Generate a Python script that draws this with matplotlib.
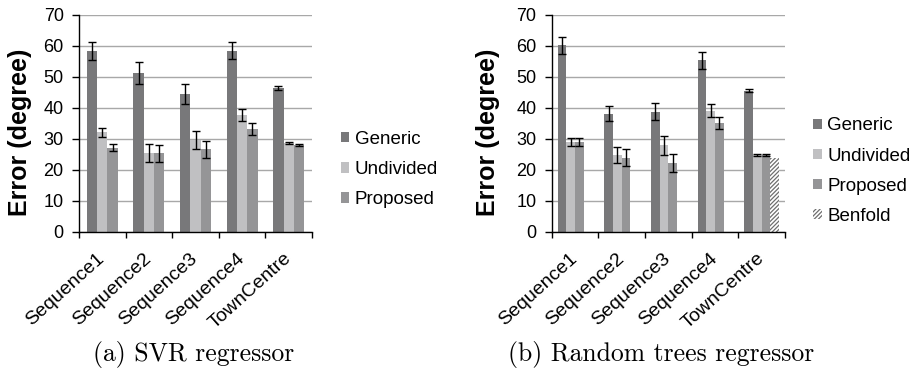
import numpy as np
import matplotlib
matplotlib.use("Agg")
import matplotlib.pyplot as plt

categories = ["Sequence1", "Sequence2", "Sequence3", "Sequence4", "TownCentre"]

# (a) SVR regressor
svr_generic = [58.2, 51.2, 44.3, 58.3, 46.4]
svr_generic_err = [3.0, 3.6, 3.3, 2.7, 0.6]
svr_undivided = [32.0, 25.3, 29.5, 37.6, 28.6]
svr_undivided_err = [1.4, 2.9, 3.0, 2.0, 0.4]
svr_proposed = [27.1, 25.3, 26.6, 33.0, 28.0]
svr_proposed_err = [1.2, 2.8, 2.7, 1.9, 0.4]

# (b) Random trees regressor
rt_generic = [60.1, 38.0, 38.7, 55.2, 45.5]
rt_generic_err = [2.8, 2.4, 2.8, 2.7, 0.6]
rt_undivided = [28.9, 24.8, 27.8, 39.0, 24.6]
rt_undivided_err = [1.2, 2.6, 3.1, 2.1, 0.3]
rt_proposed = [28.9, 23.9, 22.1, 35.0, 24.6]
rt_proposed_err = [1.2, 2.6, 2.8, 1.9, 0.3]
rt_benfold = [np.nan, np.nan, np.nan, np.nan, 23.8]

yticks = [0, 10, 20, 30, 40, 50, 60, 70]
ylabel = "Error (degree)"
captions = ["(a) SVR regressor", "(b) Random trees regressor"]

C_GEN = "#78787a"
C_UND = "#c0c0c2"
C_PRO = "#959597"

plt.rcParams['font.family'] = ['Liberation Sans', 'DejaVu Sans']
plt.rcParams['hatch.color'] = '#6e6e6e'
plt.rcParams['hatch.linewidth'] = 0.9

fig = plt.figure(figsize=(9.16, 3.72), dpi=100)
W, H = 916, 372

def make_axes(x0, x1):
    return fig.add_axes([x0 / W, 1 - 231.7 / H, (x1 - x0) / W, (231.7 - 14.5) / H])

ax1 = make_axes(79, 312)
ax2 = make_axes(551.7, 785)

def style(ax, label_x):
    x = np.arange(len(categories))
    ax.set_xlim(-0.5, len(categories) - 0.5)
    ax.set_ylim(0, 70)
    ax.set_yticks(yticks)
    ax.yaxis.grid(True, color="#a8a8a8", linewidth=1.0)
    ax.set_axisbelow(True)
    for s in ["top", "right"]:
        ax.spines[s].set_visible(False)
    ax.spines["left"].set_color("black")
    ax.spines["bottom"].set_color("black")
    ax.spines["left"].set_linewidth(1.0)
    ax.spines["bottom"].set_linewidth(1.0)
    ax.set_xticks(np.arange(len(categories) + 1) - 0.5)
    ax.set_xticklabels([])
    ax.set_xticks(x, minor=True)
    ax.set_xticklabels(categories, minor=True, rotation=42, ha="right", va="center",
                       rotation_mode="anchor", fontsize=14)
    ax.tick_params(axis="x", which="minor", length=0, pad=17.5)
    ax.tick_params(axis="x", which="major", length=4, width=1)
    ax.tick_params(axis="y", length=5, width=1, pad=6, labelsize=13)
    ax.set_ylabel(ylabel, fontsize=18, fontweight="bold")
    ax.yaxis.set_label_coords(label_x, 0.457)

err_kw = dict(ecolor="black", capsize=3, error_kw=dict(elinewidth=1, capthick=1))

# Left chart: 3 series
x = np.arange(len(categories))
w1 = 0.222
ax1.bar(x - w1, svr_generic, w1, yerr=svr_generic_err, color=C_GEN, label="Generic", **err_kw)
ax1.bar(x, svr_undivided, w1, yerr=svr_undivided_err, color=C_UND, label="Undivided", **err_kw)
ax1.bar(x + w1, svr_proposed, w1, yerr=svr_proposed_err, color=C_PRO, label="Proposed", **err_kw)
style(ax1, -0.202)

# Right chart: 4 series
w2 = 0.1875
ax2.bar(x - 1.5 * w2, rt_generic, w2, yerr=rt_generic_err, color=C_GEN, label="Generic", **err_kw)
ax2.bar(x - 0.5 * w2, rt_undivided, w2, yerr=rt_undivided_err, color=C_UND, label="Undivided", **err_kw)
ax2.bar(x + 0.5 * w2, rt_proposed, w2, yerr=rt_proposed_err, color=C_PRO, label="Proposed", **err_kw)
ax2.bar(x + 1.5 * w2, rt_benfold, w2, color="white", hatch="////////", edgecolor="#6e6e6e",
        linewidth=0, label="Benfold")
style(ax2, -0.222)

leg_kw = dict(frameon=False, fontsize=13.5, handlelength=0.46, handleheight=0.46,
              handletextpad=0.3, labelspacing=0.7, borderaxespad=0, borderpad=0)
ax1.legend(loc="center left", bbox_to_anchor=(1.123, 0.286), **leg_kw)
ax2.legend(loc="center left", bbox_to_anchor=(1.12, 0.279), **leg_kw)

fig.text(194 / W, 1 - 355 / H, captions[0], ha="center", va="center",
         fontsize=18.5, family=["cmr10", "DejaVu Serif"])
fig.text(661.5 / W, 1 - 355 / H, captions[1], ha="center", va="center",
         fontsize=18.5, family=["cmr10", "DejaVu Serif"])

fig.savefig("out.png", dpi=100)
